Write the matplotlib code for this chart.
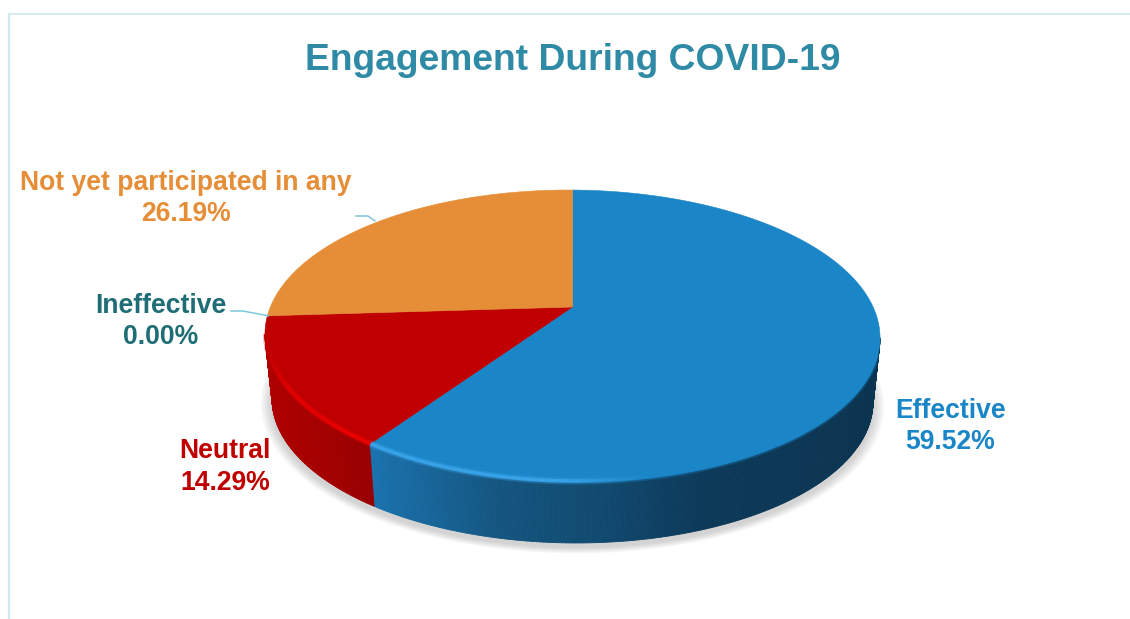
import numpy as np
import matplotlib
matplotlib.use("Agg")
import matplotlib.pyplot as plt
from matplotlib.collections import PolyCollection, LineCollection
from matplotlib.colors import to_rgb

plt.rcParams["font.family"] = ["Liberation Sans", "DejaVu Sans"]

title = "Engagement During COVID-19"
categories = ["Effective", "Neutral", "Ineffective", "Not yet participated in any"]
values = [59.52, 14.29, 0.00, 26.19]

face_colors = ["#1a86c8", "#c00000", "#1f6e75", "#e68e37"]
text_colors = ["#1a86c8", "#c00000", "#1f6e75", "#e68e37"]
label_xy = [(950.5, 426.5), (225, 467), (161, 321.5), (186, 198.5)]

# pie geometry in pixels
CX, CY = 572.5, 307
A, B, K = 301.4, 140.2, 0.1987
TILT = 0.006
DEPTH = 65
SHRINK = 0.977
# the wall only shows between the two widest points of the rim
WALL_FROM = np.arccos(-K)
WALL_TO = 2 * np.pi - WALL_FROM


def project(theta, scale=1.0, drop=0.0):
    # theta runs clockwise from 12 o'clock, with a perspective divide
    u, v = np.sin(theta), np.cos(theta)
    w = 1 + K * v
    x = A * u / w * scale
    y = -B * v / w * scale + drop
    return CX + x, CY + y + TILT * x


def lerp_stops(x, stops):
    xs = [s[0] for s in stops]
    rgb = np.array([to_rgb(s[1]) for s in stops])
    return np.column_stack([np.interp(x, xs, rgb[:, i]) for i in range(3)])


side_stops = [
    [(372, "#1a72ad"), (500, "#14557f"), (600, "#114a70"), (700, "#0d3a5a"), (880, "#0b3450")],
    [(265, "#ae0000"), (320, "#a40000"), (375, "#960000")],
    [(265, "#1f6e75"), (880, "#1f6e75")],
    [(265, "#b5722c"), (880, "#b5722c")],
]
rim_stops = [
    [(372, "#3ea8ee"), (560, "#3ea8ee"), (650, "#1a86c8"), (880, "#1a86c8")],
    [(265, "#c00000"), (290, "#ea0000"), (372, "#f60000")],
    [(265, "#1f6e75"), (880, "#1f6e75")],
    [(265, "#e68e37"), (880, "#e68e37")],
]

fig = plt.figure(figsize=(11.30, 6.19), dpi=100)
ax = fig.add_axes([0, 0, 1, 1])
ax.set_xlim(0, 1130)
ax.set_ylim(619, 0)
ax.axis("off")

# panel border, only the top and left edges show
ax.plot([9, 9, 1130], [619, 13.5, 13.5], color="#cfe9f0", lw=1.2, zorder=1)
ax.plot([8.5, 8.5], [14, 619], color="#cfe9f0", lw=1.6, zorder=1)

# wedge limits from the values
edges = np.concatenate([[0], np.cumsum(values)]) / np.sum(values) * 2 * np.pi
ring = np.linspace(0, 2 * np.pi, 361)

# soft shadow under the base
base_x, base_y = project(ring, SHRINK, DEPTH)
for i in range(12, 0, -1):
    grow = 1 + i * 0.0032
    sx = CX + (base_x - CX) * grow
    sy = CY + DEPTH + 4 + (base_y - CY - DEPTH) * grow
    ax.fill(sx, sy, color="#808080", alpha=0.032, lw=0, zorder=2)

# side wall, split into thin strips so the shading can follow x
for start, stop, stops in zip(edges[:-1], edges[1:], side_stops):
    lo, hi = max(start, WALL_FROM), min(stop, WALL_TO)
    if hi <= lo:
        continue
    t = np.linspace(lo, hi, max(int(np.degrees(hi - lo) * 2), 2))
    x0, y0 = project(t)
    x1, y1 = project(t, SHRINK, DEPTH)
    quads = [
        [(x0[i], y0[i]), (x0[i + 1], y0[i + 1]), (x1[i + 1], y1[i + 1]), (x1[i], y1[i])]
        for i in range(len(t) - 1)
    ]
    mid = (x0[:-1] + x0[1:]) / 2
    cols = lerp_stops(mid, stops)
    ax.add_collection(PolyCollection(quads, facecolors=cols, edgecolors=cols, linewidths=0.6, zorder=3))

# top face
for start, stop, color in zip(edges[:-1], edges[1:], face_colors):
    if stop <= start:
        continue
    t = np.linspace(start, stop, max(int(np.degrees(stop - start)), 2))
    x, y = project(t)
    ax.fill(np.r_[CX, x], np.r_[CY, y], color=color, lw=0.4, zorder=4)

# bevel along the front of the rim, drawn just inside the edge
for start, stop, stops in zip(edges[:-1], edges[1:], rim_stops):
    lo, hi = max(start, WALL_FROM + 0.12), min(stop, WALL_TO)
    if hi <= lo:
        continue
    t = np.linspace(lo, hi, max(int(np.degrees(hi - lo) * 2), 2))
    x, y = project(t, 0.995)
    segs = [[(x[i], y[i]), (x[i + 1], y[i + 1])] for i in range(len(x) - 1)]
    cols = lerp_stops((x[:-1] + x[1:]) / 2, stops)
    for lw, alpha in [(5.0, 0.3), (2.6, 0.8)]:
        ax.add_collection(LineCollection(segs, colors=cols, linewidths=lw, alpha=alpha, zorder=5, capstyle="butt"))

# leader lines for the two upper labels
lx, ly = project(edges[2])
ax.plot([231, 243, lx + 1], [311, 311, ly], color="#7cc8dc", lw=1.1, zorder=6)
lx, ly = project((edges[3] + edges[4]) / 2)
ax.plot([356, 368, lx - 3], [216, 216, ly - 1], color="#7cc8dc", lw=1.1, zorder=6)

ax.text(573, 60, title, color="#2e8aa5", fontsize=26.85, fontweight="bold", ha="center", va="center", zorder=7)

for name, val, (tx, ty), col in zip(categories, values, label_xy, text_colors):
    ax.text(tx, ty, f"{name}\n{val:.2f}%", color=col, fontsize=19.1, fontweight="bold",
            ha="center", va="center", multialignment="center", linespacing=1.26, zorder=7)

fig.savefig("out.png", dpi=100)
